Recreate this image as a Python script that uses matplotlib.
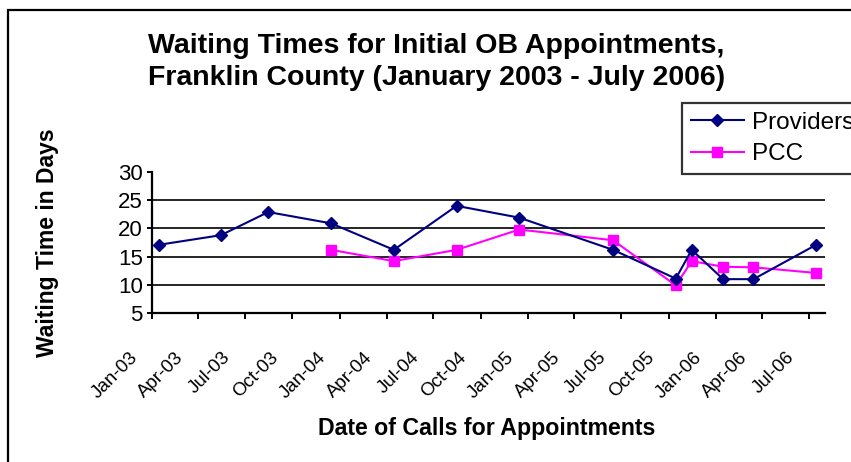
import matplotlib
matplotlib.use('Agg')
import matplotlib.pyplot as plt
import matplotlib.dates as mdates
import matplotlib.transforms as mtransforms
from matplotlib.patches import Rectangle
import pandas as pd

plt.rcParams['font.family'] = ['Liberation Sans', 'DejaVu Sans']

# data
provider_dates = ['2003-01-15', '2003-05-15', '2003-08-15', '2003-12-15', '2004-04-15',
                  '2004-08-15', '2004-12-15', '2005-06-15', '2005-10-15', '2005-11-15',
                  '2006-01-15', '2006-03-15', '2006-07-15']
provider_days = [17.1, 18.8, 22.9, 20.9, 16.2, 24.0, 21.9, 16.2, 11.1, 16.2, 11.0, 11.0, 17.1]

pcc_dates = ['2003-12-15', '2004-04-15', '2004-08-15', '2004-12-15', '2005-06-15',
             '2005-10-15', '2005-11-15', '2006-01-15', '2006-03-15', '2006-07-15']
pcc_days = [16.2, 14.2, 16.2, 19.8, 17.9, 9.9, 14.2, 13.2, 13.1, 12.1]

y_ticks = [5, 10, 15, 20, 25, 30]
grid_values = [10, 15, 20, 25]

W, H = 851, 462
fig = plt.figure(figsize=(W / 100, H / 100), dpi=100)
fig.patch.set_facecolor('white')

# outer chart border (right and bottom are cut off in the original)
fig.patches.append(Rectangle((8 / W, -0.2), 1.2, 1.2 - 10 / H, transform=fig.transFigure,
                             fill=False, edgecolor='black', linewidth=1.6))

ax = fig.add_axes([152 / W, 1 - 313 / H, 673 / W, 141 / H])

ax.hlines(grid_values, pd.Timestamp('2003-01-01'), pd.Timestamp('2006-08-01'),
          colors='black', linewidth=1.2, zorder=1)

ax.plot(pd.to_datetime(provider_dates), provider_days, color='#000080', linewidth=1.5,
        marker='D', markersize=5.8, markerfacecolor='#000080', markeredgecolor='#000080',
        label='Providers', zorder=3)
ax.plot(pd.to_datetime(pcc_dates), pcc_days, color='#FF00FF', linewidth=1.5,
        marker='s', markersize=7.5, markerfacecolor='#FF00FF', markeredgecolor='#FF00FF',
        label='PCC', zorder=2)

ax.set_xlim(pd.Timestamp('2003-01-01'), pd.Timestamp('2006-08-01'))
ax.set_ylim(5, 30)
ax.set_yticks(y_ticks)

ax.xaxis.set_major_locator(mdates.MonthLocator(bymonth=[1, 4, 7, 10]))
ax.xaxis.set_major_formatter(mdates.DateFormatter('%b-%y'))

for s in ['top', 'right']:
    ax.spines[s].set_visible(False)
for s in ['left', 'bottom']:
    ax.spines[s].set_linewidth(1.6)
    ax.spines[s].set_color('black')

ax.tick_params(axis='y', direction='out', length=3.6, width=1.4, pad=3, labelsize=16)
ax.tick_params(axis='x', direction='out', length=4.3, width=1.4, pad=21.5, labelsize=13.5)

offset = mtransforms.ScaledTranslation(-11 / 100, 0, fig.dpi_scale_trans)
for lab in ax.get_xticklabels():
    lab.set_rotation(45)
    lab.set_ha('right')
    lab.set_family(['Liberation Sans Narrow', 'Liberation Sans'])
    lab.set_transform(lab.get_transform() + offset)

# titles and axis labels
fig.text(436.5 / W, 1 - 53 / H, 'Waiting Times for Initial OB Appointments,',
         ha='center', va='baseline', fontsize=20.5, fontweight='bold')
fig.text(436.5 / W, 1 - 85 / H, 'Franklin County (January 2003 - July 2006)',
         ha='center', va='baseline', fontsize=20.5, fontweight='bold')
fig.text(487 / W, 1 - 435 / H, 'Date of Calls for Appointments',
         ha='center', va='baseline', fontsize=16.7, fontweight='bold')
fig.text(48 / W, 1 - 242.5 / H, 'Waiting Time in Days', rotation=90,
         ha='center', va='center', fontsize=16.5, fontweight='bold')

leg = fig.legend(loc='upper left', bbox_to_anchor=(682 / W, 1 - 103 / H), borderaxespad=0,
                 fontsize=17.5, frameon=True, fancybox=False, handlelength=2.2,
                 handletextpad=0.35, labelspacing=0.4, borderpad=0.35)
leg.get_frame().set_edgecolor('black')
leg.get_frame().set_linewidth(1.6)

fig.savefig('out.png', dpi=100)
